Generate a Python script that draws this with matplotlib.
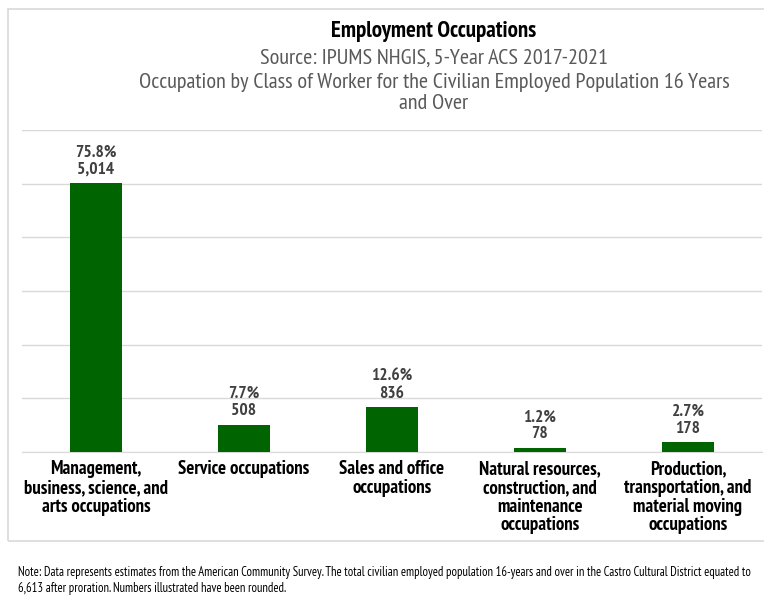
import matplotlib
matplotlib.use("Agg")
import matplotlib.pyplot as plt
from matplotlib import font_manager
from matplotlib.patches import Rectangle

# pick an installed condensed family with a static bold face
_fonts = font_manager.fontManager.ttflist
def _has(name):
    regs = [f for f in _fonts if f.name == name and "[" not in f.fname]
    return any(f.weight in (700, "bold") for f in regs) and any(f.weight in (400, "normal", "regular") for f in regs)
FONT = None
for cand in ["PT Sans Narrow", "Pragati Narrow", "Roboto Condensed", "Asap Condensed"]:
    if _has(cand):
        FONT = cand
        break
if FONT is None:
    FONT = "DejaVu Sans"
plt.rcParams['font.family'] = [FONT, 'DejaVu Sans']

categories = ["Management,\nbusiness, science, and\narts occupations",
              "Service occupations",
              "Sales and office\noccupations",
              "Natural resources,\nconstruction, and\nmaintenance\noccupations",
              "Production,\ntransportation, and\nmaterial moving\noccupations"]
counts = [5014, 508, 836, 78, 178]
percents = ["75.8%", "7.7%", "12.6%", "1.2%", "2.7%"]
yticks = [0, 1000, 2000, 3000, 4000, 5000, 6000]

W, H = 764, 599
fig = plt.figure(figsize=(W/100, H/100), dpi=100)

fig.patches.append(Rectangle((8/W, 1-541/H), (W+5-8)/W, (541-9)/H,
                             transform=fig.transFigure, fill=False,
                             edgecolor="#d9d9d9", linewidth=1.2))

ax = fig.add_axes([22/W, 1-452/H, (762-22)/W, (452-130)/H])
x = list(range(len(categories)))
ax.bar(x, counts, width=0.35, color="#006400", zorder=3)
ax.set_xlim(-0.5, len(categories)-0.5)
ax.set_ylim(0, 6000)
ax.set_yticks(yticks)
ax.yaxis.grid(True, color="#d9d9d9", linewidth=1)
ax.tick_params(axis='y', length=0, labelleft=False)
ax.tick_params(axis='x', length=0, pad=6)
ax.set_xticks(x)
ax.set_xticklabels(categories, fontsize=13.5, fontweight="bold", color="#000000",
                   linespacing=1.05)
for s in ["top", "right", "left"]:
    ax.spines[s].set_visible(False)
ax.spines["bottom"].set_color("#d9d9d9")

for xi, c, p in zip(x, counts, percents):
    ax.annotate(f"{p}\n{c:,}", (xi, c), xytext=(0, 4), textcoords="offset points",
                ha="center", va="bottom", fontsize=12.5, fontweight="bold",
                color="#404040", linespacing=1.08)

fig.text(434/W, 1-32/H, "Employment Occupations", ha="center", va="center",
         fontsize=16.5, fontweight="bold", color="#000000")
fig.text(434/W, 1-58/H, "Source: IPUMS NHGIS, 5-Year ACS 2017-2021", ha="center",
         va="center", fontsize=16, color="#595959")
fig.text(434/W, 1-93/H,
         "Occupation by Class of Worker for the Civilian Employed Population 16 Years\nand Over",
         ha="center", va="center", fontsize=16, color="#595959", linespacing=1.15)

fig.text(18/W, 1-580.5/H,
         "Note: Data represents estimates from the American Community Survey. The total civilian employed population 16-years and over in the Castro Cultural District equated to\n6,613 after proration. Numbers illustrated have been rounded.",
         ha="left", va="center", fontsize=9, color="#000000", linespacing=1.3)

fig.savefig("out.png", dpi=100, facecolor="white")
